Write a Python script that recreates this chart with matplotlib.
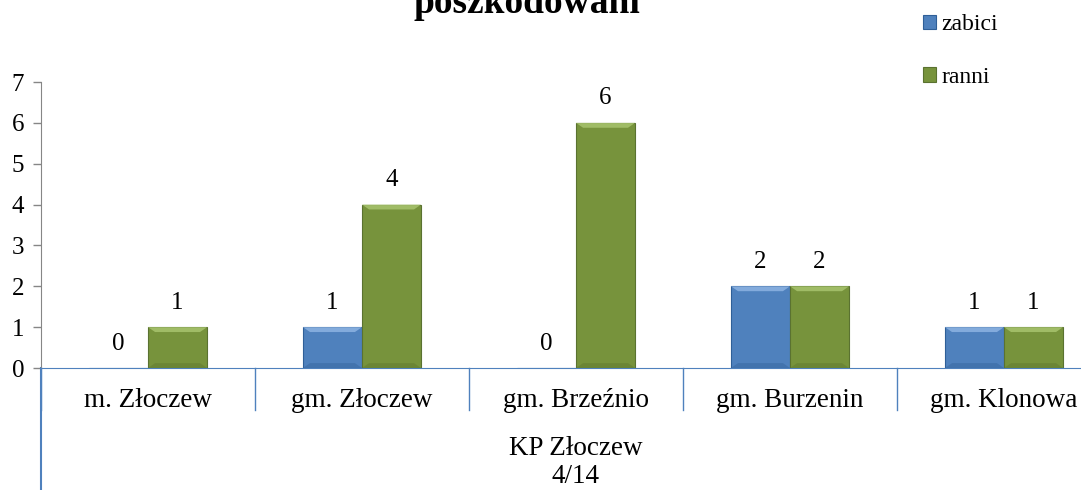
import matplotlib.pyplot as plt
import matplotlib.transforms as mtransforms
import numpy as np

plt.rcParams["font.family"] = ["Liberation Serif", "DejaVu Serif"]

categories = ["m. Złoczew", "gm. Złoczew", "gm. Brzeźnio", "gm. Burzenin", "gm. Klonowa"]
zabici = [0, 1, 0, 2, 1]
ranni = [1, 4, 6, 2, 1]
group_lines = ["KP Złoczew", "4/14"]

blue = "#4F81BD"
green = "#77933C"
axis_blue = "#4F81BD"
gray = "#868686"

fig = plt.figure(figsize=(10.81, 4.90), dpi=100)
ax = fig.add_axes([41 / 1081, 122 / 490, 1070 / 1081, 286 / 490])

x = np.arange(len(categories))
w = 0.276

b1 = ax.bar(x - w / 2, zabici, w, color=blue, edgecolor="#2F5F98", linewidth=0.8, label="zabici")
b2 = ax.bar(x + w / 2, ranni, w, color=green, edgecolor="#5A7230", linewidth=0.8, label="ranni")

# simple bevel: light top edge, darker bottom edge
for bars, light, dark in ((b1, "#8DB3E2", "#3A6AA3"), (b2, "#A8C46E", "#637D31")):
    for r in bars:
        if r.get_height() <= 0:
            continue
        x0, y0 = r.get_x(), r.get_y()
        bw, bh = r.get_width(), r.get_height()
        dx = bw * 0.12
        dy = min(0.12, bh * 0.3)
        ax.fill([x0, x0 + bw, x0 + bw - dx, x0 + dx],
                [y0 + bh, y0 + bh, y0 + bh - dy, y0 + bh - dy],
                color=light, alpha=0.85, lw=0, zorder=3)
        ax.fill([x0, x0 + bw, x0 + bw - dx, x0 + dx],
                [y0, y0, y0 + dy, y0 + dy],
                color=dark, alpha=0.6, lw=0, zorder=3)

for bars, vals in ((b1, zabici), (b2, ranni)):
    for r, v in zip(bars, vals):
        ax.text(r.get_x() + r.get_width() / 2, v + 0.33, str(v),
                ha="center", va="bottom", fontsize=18)

ax.set_xlim(-0.5, len(categories) - 0.5)
ax.set_ylim(0, 7)
ax.set_yticks(range(8))
ax.tick_params(axis="y", labelsize=18, color=gray, length=6, width=1, pad=6)
ax.set_xticks([])

for s in ("top", "right"):
    ax.spines[s].set_visible(False)
ax.spines["left"].set_color(gray)
ax.spines["bottom"].set_color(axis_blue)

# category separators and labels below axis
trans = mtransforms.blended_transform_factory(ax.transData, ax.transAxes)
sep_h = 42 / 286
for i in range(len(categories) + 1):
    ax.plot([i - 0.5, i - 0.5], [0, -sep_h], color=axis_blue, lw=1,
            transform=trans, clip_on=False)
for i, c in enumerate(categories):
    ax.text(i, -39 / 286, c, ha="center", va="baseline", fontsize=19.5, transform=trans)
ax.plot([-0.5, -0.5], [0, -130 / 286], color=axis_blue, lw=1.5,
        transform=trans, clip_on=False)
ax.text(2, -87 / 286, group_lines[0], ha="center", va="baseline", fontsize=19.5,
        transform=trans)
ax.text(2, -115 / 286, group_lines[1], ha="center", va="baseline", fontsize=19.5,
        transform=trans)

fig.text(527 / 1081, 1 - 13 / 490, "poszkodowani", ha="center", va="baseline",
         fontsize=27, fontweight="bold")

leg = fig.legend(handles=[b1, b2], labels=["zabici", "ranni"],
                 loc="upper left", bbox_to_anchor=(914 / 1081, 1 - 5 / 490),
                 frameon=False, fontsize=17, handlelength=0.55, handleheight=0.55,
                 handletextpad=0.2, labelspacing=1.33, borderaxespad=0)

fig.savefig("out.png", dpi=100)
